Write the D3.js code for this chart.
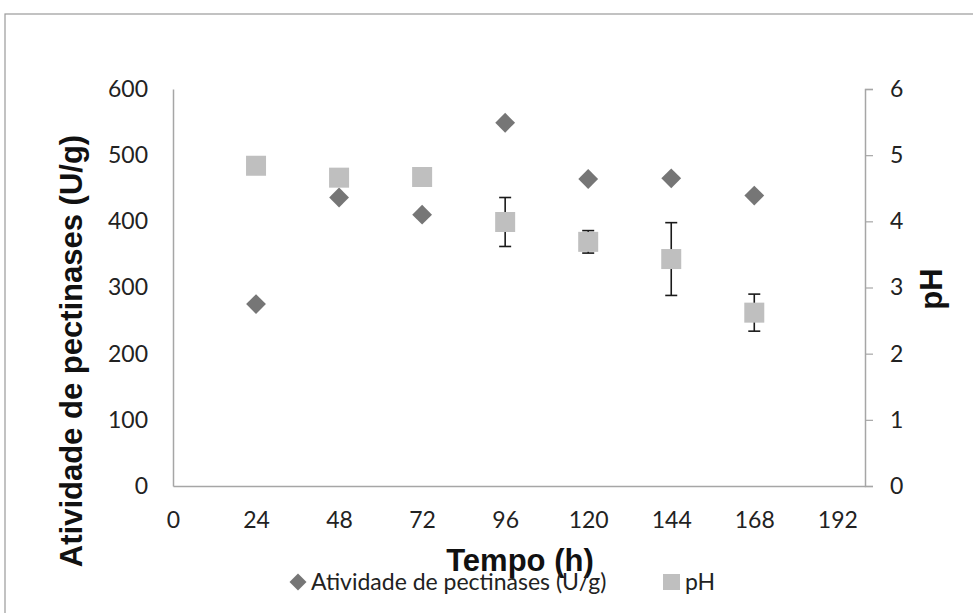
<!DOCTYPE html>
<html lang="pt">
<head>
    <meta charset="UTF-8">
    <title>Atividade de pectinases e pH</title>
    <script src="https://d3js.org/d3.v7.min.js"></script>
    <style>
        body { margin: 0; background: #fff; }
        .tick text { font-family: Lato, "Open Sans", sans-serif; font-size: 23px; fill: #222; }
        .axis-title { font-family: "Liberation Sans", Arial, sans-serif; font-weight: bold; font-size: 31px; fill: #111; }
        .legend text { font-family: Lato, "Open Sans", sans-serif; font-size: 23px; fill: #222; }
    </style>
</head>
<body>
    <div id="chart"></div>

    <script>
        // dados
        const tempo = [24, 48, 72, 96, 120, 144, 168];
        const atividade = [275, 436, 410, 549, 464, 465, 439];
        const ph = [4.84, 4.66, 4.67, 3.99, 3.69, 3.43, 2.62];
        const phErro = [null, null, null, 0.37, 0.17, 0.55, 0.28];

        const xTicks = [0, 24, 48, 72, 96, 120, 144, 168, 192];
        const yTicks = [0, 100, 200, 300, 400, 500, 600];
        const y2Ticks = [0, 1, 2, 3, 4, 5, 6];

        const W = 973, H = 613;
        const svg = d3.select("#chart").append("svg").attr("width", W).attr("height", H);

        // moldura externa
        svg.append("rect")
            .attr("x", 5).attr("y", 14)
            .attr("width", W + 10).attr("height", H + 10)
            .attr("fill", "none").attr("stroke", "#9a9a9a").attr("stroke-width", 1.2);

        const x = d3.scaleLinear().domain([0, 200]).range([173, 865]);
        const y = d3.scaleLinear().domain([0, 600]).range([486, 89]);
        const y2 = d3.scaleLinear().domain([0, 6]).range([486, 89]);

        const axisColor = "#a6a6a6";

        const xAxis = svg.append("g")
            .attr("transform", `translate(0,${y(0)})`)
            .call(d3.axisBottom(x).tickValues(xTicks).tickSize(0).tickPadding(26));
        xAxis.select(".domain").attr("stroke", axisColor).attr("stroke-width", 1.5);

        const yAxis = svg.append("g")
            .attr("transform", `translate(${x(0)},0)`)
            .call(d3.axisLeft(y).tickValues(yTicks).tickSize(0).tickPadding(25));
        yAxis.select(".domain").attr("stroke", axisColor).attr("stroke-width", 1.5);

        const y2Axis = svg.append("g")
            .attr("transform", `translate(${x(200)},0)`)
            .call(d3.axisRight(y2).tickValues(y2Ticks).tickFormat(d3.format("d")).tickSize(8).tickPadding(17));
        y2Axis.select(".domain").attr("stroke", axisColor).attr("stroke-width", 1.5);
        y2Axis.selectAll(".tick line").attr("stroke", axisColor).attr("stroke-width", 1.2);

        // títulos dos eixos
        svg.append("text").attr("class", "axis-title")
            .attr("transform", "translate(82,351) rotate(-90)")
            .attr("text-anchor", "middle")
            .text("Atividade de pectinases (U/g)");

        svg.append("text").attr("class", "axis-title")
            .attr("x", 520).attr("y", 571)
            .attr("text-anchor", "middle")
            .text("Tempo (h)");

        svg.append("text").attr("class", "axis-title")
            .attr("transform", "translate(942,289) rotate(-90)")
            .attr("text-anchor", "middle")
            .text("pH");

        // atividade (losangos)
        svg.append("g").selectAll("rect")
            .data(tempo)
            .enter().append("rect")
            .attr("x", -7).attr("y", -7)
            .attr("width", 14).attr("height", 14)
            .attr("transform", (d, i) => `translate(${x(d)},${y(atividade[i])}) rotate(45)`)
            .attr("fill", "#767676");

        // barras de erro do pH
        const err = svg.append("g").attr("stroke", "#1a1a1a").attr("stroke-width", 1.6);
        tempo.forEach((t, i) => {
            if (phErro[i] == null) return;
            const cx = x(t), top = y2(ph[i] + phErro[i]), bot = y2(ph[i] - phErro[i]);
            err.append("line").attr("x1", cx).attr("x2", cx).attr("y1", top).attr("y2", bot);
            err.append("line").attr("x1", cx - 6).attr("x2", cx + 6).attr("y1", top).attr("y2", top);
            err.append("line").attr("x1", cx - 6).attr("x2", cx + 6).attr("y1", bot).attr("y2", bot);
        });

        // pH (quadrados)
        svg.append("g").selectAll("rect")
            .data(tempo)
            .enter().append("rect")
            .attr("x", d => x(d) - 10)
            .attr("y", (d, i) => y2(ph[i]) - 10)
            .attr("width", 20).attr("height", 20)
            .attr("fill", "#bfbfbf");

        // legenda
        const legend = svg.append("g").attr("class", "legend");
        legend.append("rect")
            .attr("x", -6).attr("y", -6).attr("width", 12).attr("height", 12)
            .attr("transform", "translate(298,582) rotate(45)")
            .attr("fill", "#767676");
        legend.append("text").attr("x", 311).attr("y", 590).text("Atividade de pectinases (U/g)");
        legend.append("rect")
            .attr("x", 663).attr("y", 574).attr("width", 17).attr("height", 16)
            .attr("fill", "#bfbfbf");
        legend.append("text").attr("x", 685).attr("y", 590).text("pH");
    </script>
</body>
</html>
